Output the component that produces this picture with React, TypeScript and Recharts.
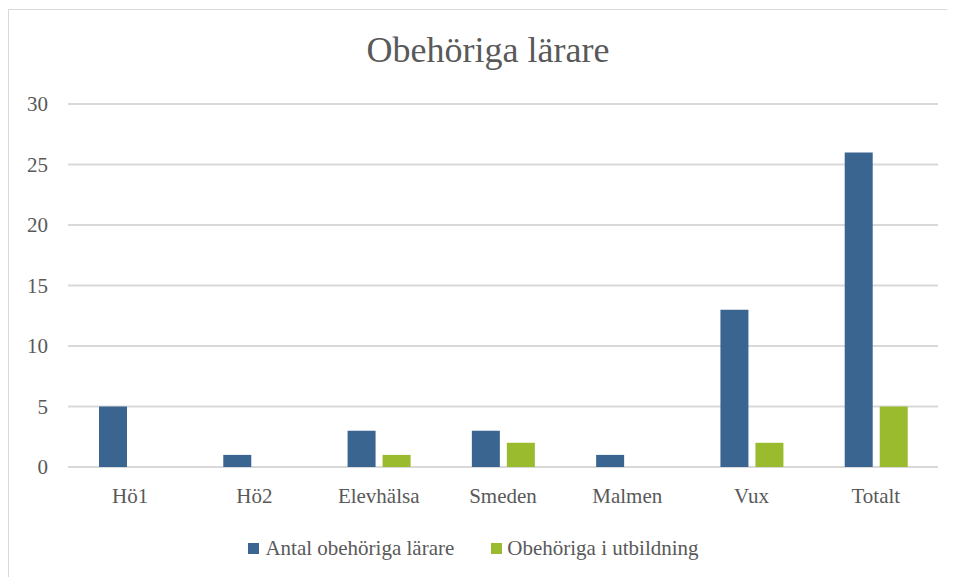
import React from 'react';
import { BarChart, Bar, XAxis, YAxis, CartesianGrid, Legend } from 'recharts';

const categories = ['Hö1', 'Hö2', 'Elevhälsa', 'Smeden', 'Malmen', 'Vux', 'Totalt'];
const antalObehoriga = [5, 1, 3, 3, 1, 13, 26];
const iUtbildning = [0, 0, 1, 2, 0, 2, 5];
const yTicks = [0, 5, 10, 15, 20, 25, 30];

const data = categories.map((name, i) => ({
    name,
    antal: antalObehoriga[i],
    utbildning: iUtbildning[i],
}));

const FONT = '"Liberation Serif", "DejaVu Serif", serif';
const TEXT = '#595959';
const BLUE = '#3a6591';
const GREEN = '#9bbb2f';

const textStyle: React.CSSProperties = { fontFamily: FONT, fontSize: 21, color: TEXT };

// svg ticks with inline style so the font is not overridden
const XTick = ({ x, y, payload }: any) => (
    <text x={x} y={y} dy={14} textAnchor="middle" fill={TEXT} style={{ fontFamily: FONT, fontSize: 21 }}>
        {payload.value}
    </text>
);

const YTick = ({ x, y, payload }: any) => (
    <text x={x} y={y} dy={7} textAnchor="end" fill={TEXT} style={{ fontFamily: FONT, fontSize: 21 }}>
        {payload.value}
    </text>
);

const LegendContent = () => (
    <div style={{ ...textStyle, height: 30, display: 'flex', alignItems: 'center', justifyContent: 'center' }}>
        <span style={{ display: 'inline-block', width: 11, height: 11, background: BLUE, marginRight: 6 }} />
        <span style={textStyle}>Antal obehöriga lärare</span>
        <span style={{ display: 'inline-block', width: 11, height: 11, background: GREEN, marginLeft: 37, marginRight: 5 }} />
        <span style={textStyle}>Obehöriga i utbildning</span>
    </div>
);

export default function App() {
    return (
        <div style={{ position: 'relative', marginTop: 1, width: 946, height: 567, borderLeft: '1px solid #d9d9d9', borderTop: '1px solid #d9d9d9' }}>
            <div style={{ position: 'absolute', top: 22, left: 0, width: 958, textAlign: 'center', fontFamily: FONT, fontSize: 36, lineHeight: '36px', color: TEXT }}>
                Obehöriga lärare
            </div>
            <BarChart width={946} height={567} data={data}
                margin={{ top: 94, right: 17, left: 0, bottom: 14 }}
                barSize={28} barGap={7}>
                <CartesianGrid vertical={false} stroke="#d9d9d9" strokeWidth={2} />
                <XAxis dataKey="name" height={66} axisLine={false} tickLine={false}
                    tickSize={0} tickMargin={22} tick={<XTick />} />
                <YAxis width={59} domain={[0, 30]} ticks={yTicks} axisLine={false} tickLine={false}
                    tickSize={0} tickMargin={20} tick={<YTick />} />
                <Legend verticalAlign="bottom" content={<LegendContent />} />
                <Bar dataKey="antal" name="Antal obehöriga lärare" fill={BLUE} isAnimationActive={false} />
                <Bar dataKey="utbildning" name="Obehöriga i utbildning" fill={GREEN} isAnimationActive={false} />
            </BarChart>
        </div>
    );
}
